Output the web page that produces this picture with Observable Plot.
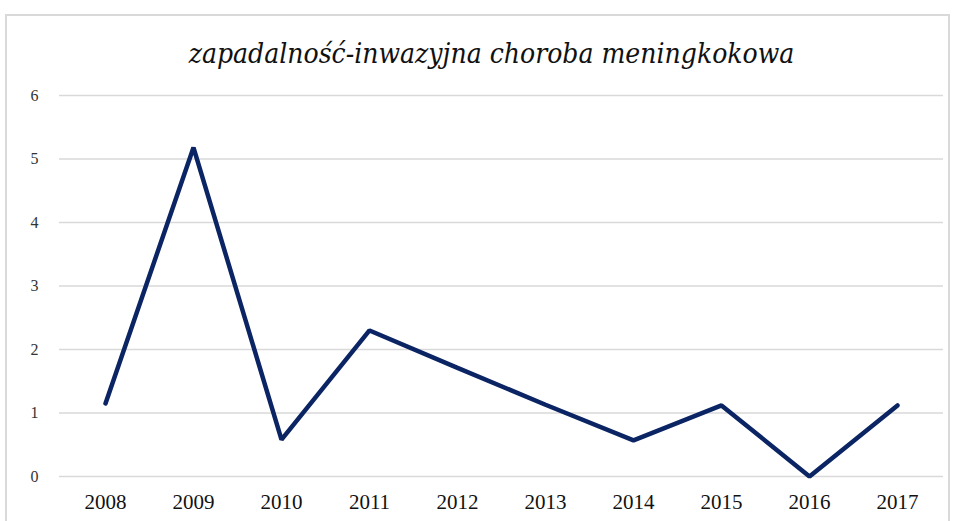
<!DOCTYPE html>
<html>
<head>
<meta charset="utf-8">
<script src="https://cdn.jsdelivr.net/npm/d3@7"></script>
<script src="https://cdn.jsdelivr.net/npm/@observablehq/plot@0.6"></script>
<style>
  html, body { margin: 0; padding: 0; background: #fff; }
  #wrap { position: relative; width: 956px; height: 521px; overflow: hidden; }
  #border { position: absolute; left: 5px; top: 14px; width: 945px; height: 520px;
            border: 2px solid #d9d9d9; box-sizing: border-box; pointer-events: none; }
  #chart { position: absolute; left: 0; top: 0; }
  #chart svg, #chart svg text { font-family: "Liberation Serif", "Times New Roman", "DejaVu Serif", serif; }
  #chart svg g.title text { font-family: "DejaVu Serif Condensed", "DejaVu Serif", serif; font-stretch: condensed; }
</style>
</head>
<body>
<div id="wrap">
  <div id="chart"></div>
  <div id="border"></div>
</div>
<script>
const title = "zapadalność-inwazyjna choroba meningkokowa";
const years = ["2008","2009","2010","2011","2012","2013","2014","2015","2016","2017"];
const values = [1.15, 5.18, 0.58, 2.3, 1.71, 1.13, 0.57, 1.12, 0, 1.12];
const yTicks = [0, 1, 2, 3, 4, 5, 6];

const data = years.map((y, i) => ({year: y, value: values[i]}));

const chart = Plot.plot({
  width: 956,
  height: 521,
  marginLeft: 59,
  marginRight: 13,
  marginTop: 95,
  marginBottom: 45,
  style: {background: "transparent"},
  x: {type: "point", domain: years, padding: 0.5, label: null},
  y: {domain: [0, 6], ticks: yTicks, label: null},
  marks: [
    Plot.gridY(yTicks, {stroke: "#d9d9d9", strokeOpacity: 1, strokeWidth: 1.5}),
    Plot.axisY(yTicks, {tickSize: 0, tickPadding: 21, fontSize: 16, fill: "#333", tickFormat: d3.format("d"), label: null}),
    Plot.axisX({tickSize: 0, tickPadding: 18, fontSize: 21, fill: "#111", stroke: "#111", strokeWidth: 0.3, label: null}),
    Plot.line(data, {x: "year", y: "value", stroke: "#0b2463", strokeWidth: 4.5, strokeLinejoin: "miter", strokeLinecap: "round"}),
    Plot.text([title], {frameAnchor: "top", dy: -52, dx: -10, fontSize: 28, fontStyle: "italic", fill: "#111", className: "title", text: d => d})
  ]
});
document.getElementById("chart").appendChild(chart);
</script>
</body>
</html>
